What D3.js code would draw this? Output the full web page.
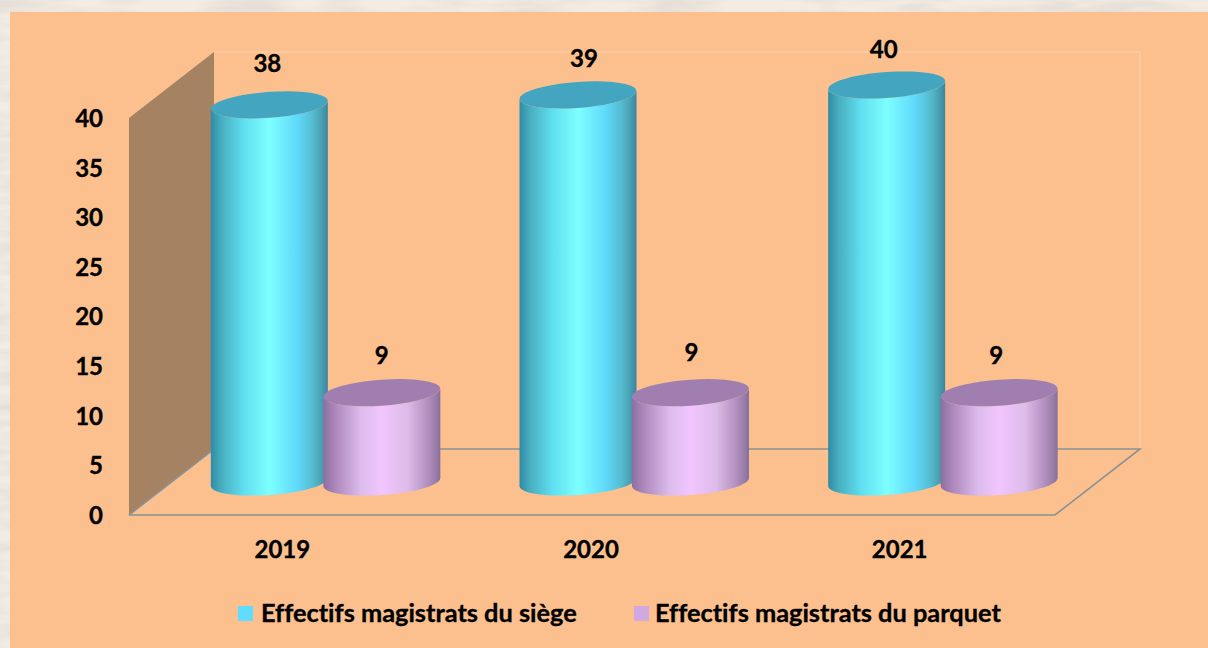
<!DOCTYPE html>
<html><head><meta charset="utf-8">
<script src="https://cdn.jsdelivr.net/npm/d3@7/dist/d3.min.js"></script>
<style>html,body{margin:0;padding:0;background:#efe6dc}svg{display:block}text{font-family:Lato,"Open Sans",sans-serif;font-weight:700;fill:#000;stroke:#000;stroke-width:0.35px;font-variant-ligatures:none}</style>
</head><body><div id="c"></div>
<script>
const years = ["2019","2020","2021"];
const siege = [38,39,40];
const parquet = [9,9,9];
const yTicks = [0,5,10,15,20,25,30,35,40];
const seriesNames = ["Effectifs magistrats du siège","Effectifs magistrats du parquet"];
const siegeLabelNudge = [[-2,-41],[6,-36],[-3,-35]];
const parquetLabelNudge = [[0,-37],[1,-40],[-3,-37]];

const W=1208,H=648;
const svg=d3.select("#c").append("svg").attr("width",W).attr("height",H);
const defs=svg.append("defs");
const f=defs.append("filter").attr("id","marble").attr("x",0).attr("y",0).attr("width","100%").attr("height","100%");
f.append("feTurbulence").attr("type","fractalNoise").attr("baseFrequency","0.014 0.07").attr("numOctaves",3).attr("seed",4);
f.append("feColorMatrix").attr("type","matrix").attr("values","0 0 0 0 0.78  0 0 0 0 0.74  0 0 0 0 0.69  2.6 0 0 0 -0.95");
const grad=(id,stops)=>{const g=defs.append("linearGradient").attr("id",id);
  stops.forEach(([o,c])=>g.append("stop").attr("offset",o).attr("stop-color",c));};
grad("gs",[[0,"#2f8ba6"],[.09,"#48aebf"],[.28,"#5fdff0"],[.5,"#7dffff"],[.74,"#5fd9fb"],[.87,"#55bcd0"],[.94,"#4aa3b4"],[1,"#3a84a2"]]);
grad("gp",[[0,"#8d6f9f"],[.1,"#ac87bb"],[.32,"#dcbcec"],[.5,"#f2c5ff"],[.72,"#dcbce9"],[.88,"#b592c2"],[.96,"#9a7da8"],[1,"#85709a"]]);

svg.append("rect").attr("width",W).attr("height",H).attr("fill","#f3ece4");
svg.append("rect").attr("width",W).attr("height",H).attr("filter","url(#marble)");
svg.append("rect").attr("x",10).attr("y",12).attr("width",W-10).attr("height",H-12).attr("fill","#fcc08f");

const y=d3.scaleLinear().domain([0,40]).range([515,118]);
const x=d3.scaleBand().domain(years).range([129,1055]);
const dx=85,dy=-66;
const line=d3.line();
const y0=y(0),yT=y(40),xL=x.range()[0],xR=x.range()[1];

svg.append("path").attr("d",line([[xL,yT],[xL+dx,yT+dy],[xL+dx,y0+dy],[xL,y0]])+"Z").attr("fill","#a58261");
svg.append("path").attr("d",line([[xL+dx,yT+dy],[xR+dx,yT+dy],[xR+dx,y0+dy]])).attr("fill","none").attr("stroke","#fdd2ad").attr("stroke-width",1);
svg.append("path").attr("d",line([[xL,y0],[xR,y0],[xR+dx,y0+dy],[xL+dx,y0+dy],[xL,y0]])).attr("fill","none").attr("stroke","#8b9294").attr("stroke-width",1.6);

const axis=d3.axisLeft(y).tickValues(yTicks).tickSize(0).tickPadding(0);
const ag=svg.append("g").attr("transform","translate(103,0)").call(axis);
ag.select(".domain").remove();
ag.selectAll("text").attr("font-size",24).attr("dy","0.35em").style("font-family",'Lato,"Open Sans",sans-serif').style("font-weight",700);

const xAxis=d3.axisBottom(x).tickSize(0).tickPadding(0);
const xg=svg.append("g").attr("transform","translate(0,541)").call(xAxis);
xg.select(".domain").remove();
xg.selectAll("text").attr("font-size",24).attr("dy","0.72em").attr("dx",-1).style("font-family",'Lato,"Open Sans",sans-serif').style("font-weight",700);

const a=58.5,b=13,k=4;
const ell=(cx,cy,from,to)=>d3.range(0,41).map(i=>{const t=from+(to-from)*i/40;
  return [cx+a*Math.cos(t),cy+b*Math.sin(t)-k*Math.cos(t)];});
function cyl(cx,v,gid,top){
  const cyT=y(v)+dy/2, cyB=y0+dy/2;
  const body=[...ell(cx,cyT,Math.PI,0),...ell(cx,cyB,0,Math.PI)];
  svg.append("path").attr("d",line(body)+"Z").attr("fill",`url(#${gid})`);
  svg.append("path").attr("d",line(ell(cx,cyT,0,2*Math.PI))+"Z").attr("fill",top);
}
const centre=(yr)=>x(yr)+x.bandwidth()/2+dx/2;
years.forEach((yr,i)=>{
  const c=centre(yr);
  cyl(c-56.5,siege[i],"gs","#43a5c0");
  cyl(c+56,parquet[i],"gp","#a07fb0");
  svg.append("text").attr("x",c-56.5+siegeLabelNudge[i][0]).attr("y",y(siege[i])+dy/2+siegeLabelNudge[i][1]).attr("dy","0.35em").attr("text-anchor","middle").attr("font-size",24).text(siege[i]);
  svg.append("text").attr("x",c+56+parquetLabelNudge[i][0]).attr("y",y(parquet[i])+dy/2+parquetLabelNudge[i][1]).attr("dy","0.35em").attr("text-anchor","middle").attr("font-size",24).text(parquet[i]);
});

const lg=[[238,"#5fdcff",261],[634,"#cfa9e0",655]];
seriesNames.forEach((n,i)=>{
  svg.append("rect").attr("x",lg[i][0]).attr("y",606).attr("width",15).attr("height",15).attr("fill",lg[i][1]);
  svg.append("text").attr("x",lg[i][2]).attr("y",622).attr("font-size",25.35).text(n);
});
</script></body></html>
